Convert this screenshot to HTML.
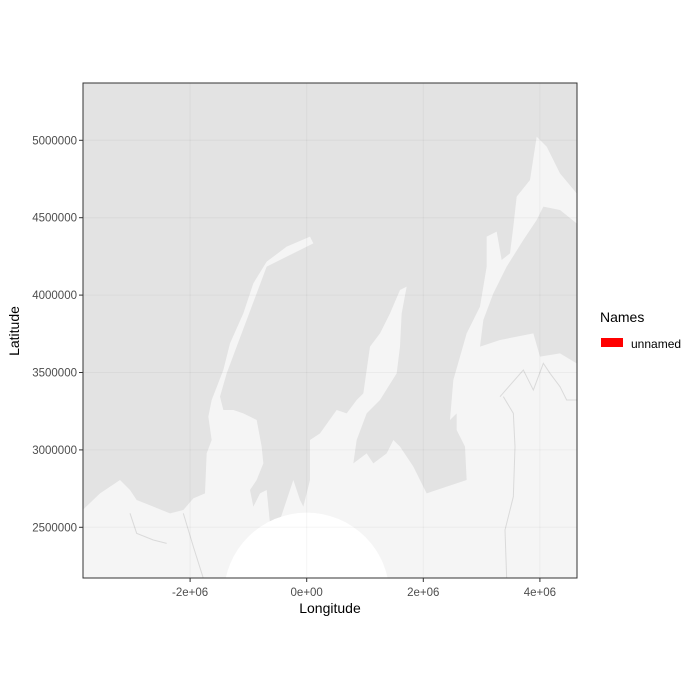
<!DOCTYPE html>
<html><head><meta charset="utf-8"><style>
html,body{margin:0;padding:0;background:#fff;}
svg{display:block;font-family:"Liberation Sans",Arial,sans-serif;}
</style></head><body>
<svg width="700" height="700" viewBox="0 0 700 700">
<defs><clipPath id="pc"><rect x="83" y="83" width="494" height="495"/></clipPath></defs>
<g id="panel" clip-path="url(#pc)">
  <rect x="83" y="83" width="494" height="495" fill="#e3e3e3"/>
  <g transform="translate(80,80) scale(0.3333333)">
    <polygon fill="#f5f5f5" points="8,1290 60,1240 120,1200 150,1230 170,1260 220,1280 270,1300 310,1290 340,1255 375,1240 380,1120 395,1080 385,1010 395,960 430,870 450,790 490,700 520,610 560,545 620,500 690,470 700,490 560,560 530,640 500,720 470,800 440,880 420,950 430,990 460,990 490,1000 530,1020 545,1100 550,1150 530,1200 510,1230 520,1280 540,1240 560,1230 570,1330 600,1320 620,1260 640,1200 660,1260 670,1280 690,1200 690,1080 720,1060 770,990 800,1000 830,960 850,940 870,800 900,760 930,700 960,630 980,620 965,700 960,800 950,880 900,960 860,1000 830,1080 820,1150 860,1120 880,1150 920,1120 940,1080 960,1100 1000,1160 1040,1240 1100,1220 1160,1200 1155,1100 1130,1050 1130,1000 1110,1020 1120,900 1160,760 1200,680 1220,560 1220,470 1250,455 1265,540 1290,520 1300,440 1310,350 1350,300 1370,170 1400,200 1440,280 1490,340 1490,430 1440,390 1390,380 1370,420 1330,480 1280,560 1240,640 1210,720 1200,800 1260,780 1360,760 1380,830 1440,820 1490,850 1495,1500 5,1500"/>
    <polyline fill="none" stroke="#dadada" stroke-width="3" points="1270,950 1300,1000 1305,1100 1300,1250 1275,1350 1280,1495"/>
    <polyline fill="none" stroke="#dadada" stroke-width="3" points="1260,950 1330,870 1360,930 1390,850 1410,880 1440,920 1460,960 1490,960"/>
    <polyline fill="none" stroke="#dadada" stroke-width="3" points="310,1300 340,1400 370,1495"/>
    <polyline fill="none" stroke="#dadada" stroke-width="3" points="150,1300 170,1360 220,1380 260,1390"/>
  </g>
  <circle id="hole" fill="#ffffff"/>
  <g id="grid"></g>
</g>
<rect x="83" y="83" width="494" height="495" fill="none" stroke="#333" stroke-width="1"/>
<g id="axes"></g>
<text x="330" y="613" text-anchor="middle" font-size="14" fill="#000">Longitude</text>
<text transform="translate(19,331) rotate(-90)" text-anchor="middle" font-size="14" fill="#000">Latitude</text>
<text x="600" y="322" font-size="14" fill="#000">Names</text>
<rect x="601" y="338" width="22" height="9" fill="#ff0000"/>
<text x="631" y="348" font-size="12" fill="#000">unnamed</text>
</svg>
<script>
const xTicks = [-2000000, 0, 2000000, 4000000];
const xTickLabels = ["-2e+06", "0e+00", "2e+06", "4e+06"];
const yTicks = [2500000, 3000000, 3500000, 4000000, 4500000, 5000000];
const yTickLabels = ["2500000", "3000000", "3500000", "4000000", "4500000", "5000000"];
const capCenter = [0, 2060000];
const capRadius = 1420000;

const xs = v => 306.7 + v * (116.6 / 2000000);
const ys = v => 140.3 + (5000000 - v) * (77.4 / 500000);
const NS = "http://www.w3.org/2000/svg";
const grid = document.getElementById('grid');
const axes = document.getElementById('axes');
const hole = document.getElementById('hole');
hole.setAttribute('cx', xs(capCenter[0]));
hole.setAttribute('cy', ys(capCenter[1]));
hole.setAttribute('r', capRadius * (116.6 / 2000000));

xTicks.forEach((t, i) => {
  const x = xs(t);
  const g = document.createElementNS(NS, 'line');
  
  
  g.setAttribute('x1', x); g.setAttribute('x2', x); g.setAttribute('y1', 83); g.setAttribute('y2', 578);
  g.setAttribute('stroke', '#000'); g.setAttribute('stroke-opacity', '0.04'); g.setAttribute('stroke-width', '1');
  grid.appendChild(g);
  const tk = document.createElementNS(NS, 'line');
  
  
  tk.setAttribute('x1', x); tk.setAttribute('x2', x); tk.setAttribute('y1', 578); tk.setAttribute('y2', 582);
  tk.setAttribute('stroke', '#333');
  axes.appendChild(tk);
  const tx = document.createElementNS(NS, 'text');
  
  
  tx.setAttribute('x', x); tx.setAttribute('y', 596);
  tx.setAttribute('text-anchor', 'middle'); tx.setAttribute('font-size', '11.5'); tx.setAttribute('fill', '#4d4d4d');
  tx.textContent = xTickLabels[i];
  axes.appendChild(tx);
});
yTicks.forEach((t, i) => {
  const y = ys(t);
  const g = document.createElementNS(NS, 'line');
  
  
  g.setAttribute('x1', 83); g.setAttribute('x2', 577); g.setAttribute('y1', y); g.setAttribute('y2', y);
  g.setAttribute('stroke', '#000'); g.setAttribute('stroke-opacity', '0.04'); g.setAttribute('stroke-width', '1');
  grid.appendChild(g);
  const tk = document.createElementNS(NS, 'line');
  
  
  tk.setAttribute('x1', 79); tk.setAttribute('x2', 83); tk.setAttribute('y1', y); tk.setAttribute('y2', y);
  tk.setAttribute('stroke', '#333');
  axes.appendChild(tk);
  const tx = document.createElementNS(NS, 'text');
  
  
  tx.setAttribute('x', 77); tx.setAttribute('y', y + 4);
  tx.setAttribute('text-anchor', 'end'); tx.setAttribute('font-size', '11.5'); tx.setAttribute('fill', '#4d4d4d');
  tx.textContent = yTickLabels[i];
  axes.appendChild(tx);
});
</script>
</body></html>
